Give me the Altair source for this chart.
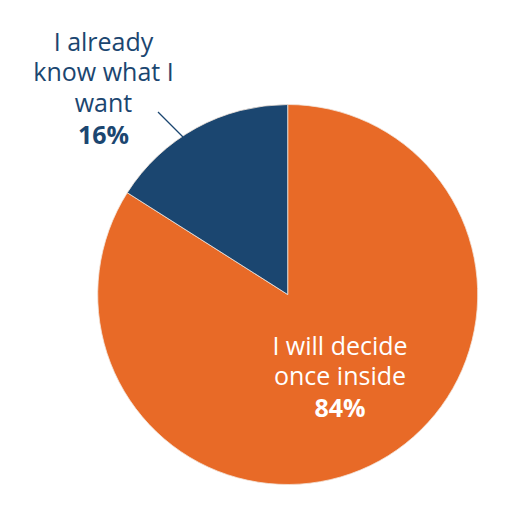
import altair as alt
import pandas as pd

categories = ["I will decide once inside", "I already know what I want"]
values = [84, 16]
order = [0, 1]
colors = ["#E86A27", "#1B4670"]
navy_label = ["I already", "know what I", "want"]
orange_label = ["I will decide", "once inside"]

df = pd.DataFrame({"category": categories, "value": values, "order": order})

CX, CY, R = 279.7, 286.5, 190

pie = alt.Chart(df).mark_arc(radius=R, stroke="#f3e6dc", strokeWidth=0.8).encode(
    theta=alt.Theta("value:Q", stack=True),
    order=alt.Order("order:Q"),
    color=alt.Color("category:N", scale=alt.Scale(domain=categories, range=colors), legend=None),
    x=alt.value(CX),
    y=alt.value(CY),
)

FONT = "Open Sans"
FS = 25
LH = 30.5


def text_block(lines, pct, x, y0, color):
    body = alt.Chart(pd.DataFrame({"t": ["\n".join(lines)]})).mark_text(
        font=FONT, fontSize=FS, fontWeight=400, color=color, align="center",
        baseline="top", lineBreak="\n", lineHeight=LH
    ).encode(text="t:N", x=alt.value(x), y=alt.value(y0 - LH / 2 + 3))
    pc = alt.Chart(pd.DataFrame({"t": [pct]})).mark_text(
        font=FONT, fontSize=FS, fontWeight="bold", color=color, align="center", baseline="middle"
    ).encode(text="t:N", x=alt.value(x), y=alt.value(y0 + LH * len(lines) + 1))
    return [body, pc]


leader = alt.Chart(pd.DataFrame({"a": [0]})).mark_rule(color="#1B4670", strokeWidth=1.3).encode(
    x=alt.value(150), y=alt.value(104), x2=alt.value(175), y2=alt.value(129)
)

layers = [pie, leader]
layers += text_block(navy_label, f"{values[1]}%", 95.5, 35, "#1B4670")
layers += text_block(orange_label, f"{values[0]}%", 332, 339, "#FFFFFF")

chart = alt.layer(*layers).properties(
    width=502, height=498, padding=0, autosize="none", background="white"
).configure_view(strokeWidth=0)

chart.save("out.html", embed_options={"renderer": "svg", "actions": False})
